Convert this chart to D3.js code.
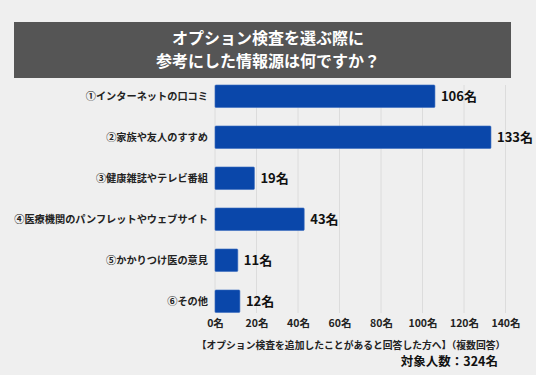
<!DOCTYPE html>
<html>
<head>
<meta charset="utf-8">
<script src="https://cdn.jsdelivr.net/npm/d3@7"></script>
<style>
  body { margin: 0; background: #efefef; }
  svg { display: block; font-family: "Noto Sans CJK JP", "Noto Sans", sans-serif; }
</style>
</head>
<body>
<div id="chart"></div>
<script>
// data
const categories = [
  "①インターネットの口コミ",
  "②家族や友人のすすめ",
  "③健康雑誌やテレビ番組",
  "④医療機関のパンフレットやウェブサイト",
  "⑤かかりつけ医の意見",
  "⑥その他"
];
const counts = [106, 133, 19, 43, 11, 12];
const xTicks = [0, 20, 40, 60, 80, 100, 120, 140];
const titleLines = ["オプション検査を選ぶ際に", "参考にした情報源は何ですか？"];
const note = "【オプション検査を追加したことがあると回答した方へ】（複数回答）";
const total = "対象人数：324名";

// CONSTANTS
const width = 536,
    height = 375,
    margin = { top: 76, bottom: 53, left: 215, right: 30 };

const svg = d3.select("#chart")
    .append("svg")
    .attr("width", width)
    .attr("height", height);

svg.append("rect")
    .attr("width", width)
    .attr("height", height)
    .attr("fill", "#efefef");

// title box
svg.append("rect")
    .attr("x", 14)
    .attr("y", 22)
    .attr("width", 497)
    .attr("height", 56)
    .attr("fill", "#555555");

svg.selectAll(".title")
    .data(titleLines)
    .join("text")
    .attr("class", "title")
    .attr("x", 268)
    .attr("y", (d, i) => 44 + i * 23)
    .attr("text-anchor", "middle")
    .attr("fill", "#ffffff")
    .attr("font-size", 16)
    .attr("font-weight", "bold")
    .text(d => d);

// SCALES
const xScale = d3.scaleLinear()
    .domain([0, 140])
    .range([215, 505.5]);

const yScale = d3.scaleBand()
    .domain(categories)
    .range([75.75, 321.75])
    .paddingInner(0.45)
    .paddingOuter(0.225);

// grid
svg.selectAll(".grid")
    .data(xTicks)
    .join("line")
    .attr("class", "grid")
    .attr("x1", d => xScale(d))
    .attr("x2", d => xScale(d))
    .attr("y1", 85)
    .attr("y2", 313)
    .attr("stroke", "#dcdcdc")
    .attr("stroke-width", 1);

// x axis
const xAxis = d3.axisBottom(xScale)
    .tickValues(xTicks)
    .tickSize(0)
    .tickPadding(0)
    .tickFormat(d => d + "名");

svg.append("g")
    .attr("transform", "translate(0,320)")
    .call(xAxis)
    .call(g => g.select(".domain").remove())
    .selectAll("text")
    .attr("font-family", "'Noto Sans CJK JP', sans-serif")
    .attr("font-size", 10.5)
    .attr("font-weight", "bold")
    .attr("fill", "#222");

// y axis labels
const yAxis = d3.axisLeft(yScale)
    .tickSize(0)
    .tickPadding(7);

svg.append("g")
    .attr("transform", `translate(${margin.left},0)`)
    .call(yAxis)
    .call(g => g.select(".domain").remove())
    .selectAll("text")
    .attr("font-family", "'Noto Sans CJK JP', sans-serif")
    .attr("font-size", 10.2)
    .attr("font-weight", "bold")
    .attr("fill", "#222");

// bars
const rows = categories.map((c, i) => ({ cat: c, value: counts[i] }));

svg.selectAll(".bar")
    .data(rows)
    .join("rect")
    .attr("class", "bar")
    .attr("x", xScale(0))
    .attr("y", d => yScale(d.cat))
    .attr("width", d => xScale(d.value) - xScale(0))
    .attr("height", yScale.bandwidth())
    .attr("rx", 1)
    .attr("fill", "#0a47aa")
    .attr("stroke", "#3a6cc0")
    .attr("stroke-width", 0.6);

svg.selectAll(".val")
    .data(rows)
    .join("text")
    .attr("class", "val")
    .attr("x", d => xScale(d.value) + 6)
    .attr("y", d => yScale(d.cat) + yScale.bandwidth() / 2)
    .attr("dy", "0.36em")
    .attr("font-size", 13)
    .attr("font-weight", "bold")
    .attr("fill", "#111")
    .text(d => d.value + "名");

// notes
svg.append("text")
    .attr("x", 351)
    .attr("y", 349)
    .attr("text-anchor", "middle")
    .attr("font-size", 9.8)
    .attr("font-weight", "bold")
    .attr("fill", "#222")
    .text(note);

svg.append("text")
    .attr("x", 498)
    .attr("y", 366)
    .attr("text-anchor", "end")
    .attr("font-size", 12.5)
    .attr("font-weight", "bold")
    .attr("fill", "#111")
    .text(total);
</script>
</body>
</html>
